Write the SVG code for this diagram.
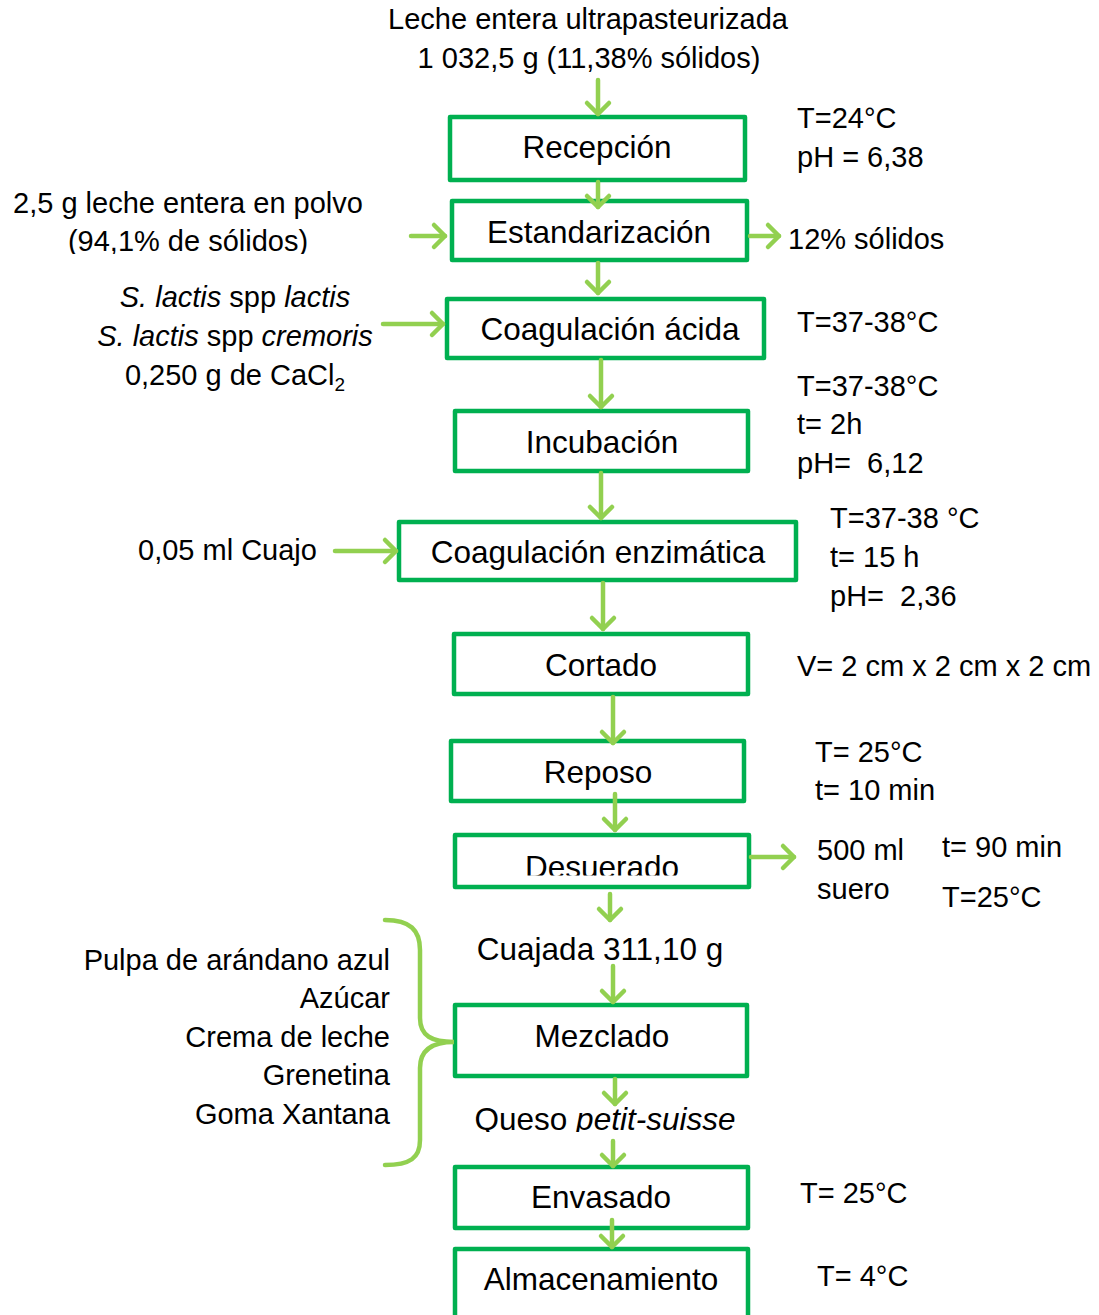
<svg xmlns="http://www.w3.org/2000/svg" width="1099" height="1315" viewBox="0 0 1099 1315">
  <style>
    text { font-family: "Liberation Sans", Arial, sans-serif; font-size: 29px; fill: #000; }
    .lbl { font-size: 31.5px; text-anchor: middle; }
    .big { font-size: 31.5px; }
    .mid { text-anchor: middle; }
    .end { text-anchor: end; }
    .it { font-style: italic; }
    .box { fill: #fff; stroke: #00B050; stroke-width: 4.5; stroke-linejoin: round; }
    .arrow { fill: none; stroke: #92D050; stroke-width: 4.5; stroke-linecap: round; }
    .brace { fill: none; stroke: #92D050; stroke-width: 4.5; stroke-linecap: round; }
  </style>
  <defs>
    <marker id="chev" markerUnits="userSpaceOnUse" markerWidth="30" markerHeight="30" viewBox="-15 -15 30 30" refX="0" refY="0" orient="auto">
      <path d="M-11,-11 L0,0 L-11,11" fill="none" stroke="#92D050" stroke-width="4.5" stroke-linecap="round" stroke-linejoin="round"/>
    </marker>
    <clipPath id="clipPowder"><rect x="0" y="225" width="400" height="29"/></clipPath>
    <clipPath id="clipWhey"><rect x="455" y="840" width="294" height="35.5"/></clipPath>
    <clipPath id="clipQueso"><rect x="440" y="1095" width="320" height="37"/></clipPath>
  </defs>

  <rect width="1099" height="1315" fill="#fff"/>

  <!-- input header -->
  <g id="input-milk">
    <text class="mid" x="588" y="29">Leche entera ultrapasteurizada</text>
    <text class="mid" x="589" y="68">1 032,5 g (11,38% sólidos)</text>
  </g>

  <!-- process steps -->
  <g id="recepcion">
    <rect class="box" x="450" y="117" width="295" height="63"/>
    <text class="lbl" x="597" y="158">Recepción</text>
  </g>
  <g id="estandarizacion">
    <rect class="box" x="452" y="201" width="295" height="59"/>
    <text class="lbl" x="599" y="243">Estandarización</text>
  </g>
  <g id="coagulacion-acida">
    <rect class="box" x="447" y="299" width="317" height="59"/>
    <text class="lbl" x="610" y="340">Coagulación ácida</text>
  </g>
  <g id="incubacion">
    <rect class="box" x="455" y="411" width="293" height="60"/>
    <text class="lbl" x="602" y="453">Incubación</text>
  </g>
  <g id="coagulacion-enzimatica">
    <rect class="box" x="399" y="522" width="397" height="58"/>
    <text class="lbl" x="598" y="563">Coagulación enzimática</text>
  </g>
  <g id="cortado">
    <rect class="box" x="454" y="634" width="294" height="60"/>
    <text class="lbl" x="601" y="676">Cortado</text>
  </g>
  <g id="reposo">
    <rect class="box" x="451" y="741" width="293" height="60"/>
    <text class="lbl" x="598" y="783">Reposo</text>
  </g>
  <g id="desuerado">
    <rect class="box" x="455" y="835" width="294" height="52"/>
    <text class="lbl" x="602" y="878" clip-path="url(#clipWhey)">Desuerado</text>
  </g>
  <g id="cuajada">
    <text class="big mid" x="600" y="960">Cuajada 311,10 g</text>
  </g>
  <g id="mezclado">
    <rect class="box" x="455" y="1005" width="292" height="71"/>
    <text class="lbl" x="602" y="1047">Mezclado</text>
  </g>
  <g id="queso">
    <text class="big mid" x="605" y="1130" clip-path="url(#clipQueso)">Queso <tspan class="it">petit-suisse</tspan></text>
  </g>
  <g id="envasado">
    <rect class="box" x="455" y="1167" width="293" height="61"/>
    <text class="lbl" x="601" y="1208">Envasado</text>
  </g>
  <g id="almacenamiento">
    <rect class="box" x="455" y="1249" width="293" height="80"/>
    <text class="lbl" x="601" y="1290">Almacenamiento</text>
  </g>

  <!-- side inputs -->
  <g id="input-powder">
    <text class="mid" x="188" y="213">2,5 g leche entera en polvo</text>
    <text class="mid" x="188" y="251" clip-path="url(#clipPowder)">(94,1% de sólidos)</text>
  </g>
  <g id="input-cultures">
    <text class="mid" x="235" y="307"><tspan class="it">S. lactis</tspan> spp <tspan class="it">lactis</tspan></text>
    <text class="mid" x="235" y="346"><tspan class="it">S. lactis</tspan> spp <tspan class="it">cremoris</tspan></text>
    <text class="mid" x="235" y="385">0,250 g de CaCl<tspan font-size="19" dy="6">2</tspan></text>
  </g>
  <g id="input-rennet">
    <text x="138" y="560">0,05 ml Cuajo</text>
  </g>
  <g id="input-mix">
    <text class="end" x="390" y="970">Pulpa de arándano azul</text>
    <text class="end" x="390" y="1008">Azúcar</text>
    <text class="end" x="390" y="1047">Crema de leche</text>
    <text class="end" x="390" y="1085">Grenetina</text>
    <text class="end" x="390" y="1124">Goma Xantana</text>
    <path class="brace" d="M385,920 C410,920 420,930 420,950 L420,1018 C420,1036 432,1042 454,1042 C432,1042 420,1050 420,1068 L420,1140 C420,1158 410,1165 385,1165"/>
  </g>

  <!-- outputs and conditions -->
  <g id="output-solids"><text x="788" y="249">12% sólidos</text></g>
  <g id="cond-recepcion">
    <text x="797" y="128">T=24°C</text>
    <text x="797" y="167">pH = 6,38</text>
  </g>
  <g id="cond-acida"><text x="797" y="332">T=37-38°C</text></g>
  <g id="cond-incubacion">
    <text x="797" y="396">T=37-38°C</text>
    <text x="797" y="434">t= 2h</text>
    <text x="797" y="473" xml:space="preserve">pH=  6,12</text>
  </g>
  <g id="cond-enzimatica">
    <text x="830" y="528">T=37-38 °C</text>
    <text x="830" y="567">t= 15 h</text>
    <text x="830" y="606" xml:space="preserve">pH=  2,36</text>
  </g>
  <g id="cond-cortado"><text x="797" y="676">V= 2 cm x 2 cm x 2 cm</text></g>
  <g id="cond-reposo">
    <text x="815" y="762">T= 25°C</text>
    <text x="815" y="800">t= 10 min</text>
  </g>
  <g id="output-whey">
    <text x="817" y="860">500 ml</text>
    <text x="817" y="899">suero</text>
    <text x="942" y="857">t= 90 min</text>
    <text x="942" y="907">T=25°C</text>
  </g>
  <g id="cond-envasado"><text x="800" y="1203">T= 25°C</text></g>
  <g id="cond-almacenamiento"><text x="817" y="1286">T= 4°C</text></g>

  <!-- connectors -->
  <g id="connectors" class="arrow" marker-end="url(#chev)">
    <path d="M598,80 V114"/>
    <path d="M598,182 V207"/>
    <path d="M411,236 H445"/>
    <path d="M750,236 H779"/>
    <path d="M598,263 V293"/>
    <path d="M383,324 H443"/>
    <path d="M601,360 V407"/>
    <path d="M601,473 V518"/>
    <path d="M335,551 H396"/>
    <path d="M603,583 V629"/>
    <path d="M613,697 V743"/>
    <path d="M615,794 V830"/>
    <path d="M751,857 H794"/>
    <path d="M610,894 V920"/>
    <path d="M613,966 V1002"/>
    <path d="M615,1079 V1104"/>
    <path d="M613,1141 V1166"/>
    <path d="M612,1220 V1247"/>
  </g>
</svg>
